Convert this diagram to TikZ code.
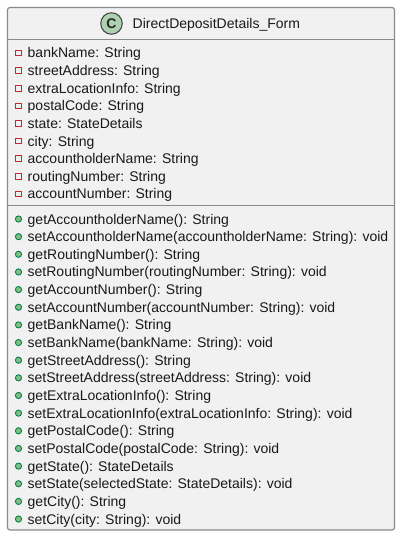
\documentclass[tikz,border=0pt]{standalone}
\usepackage{fontspec}
\setmainfont{Liberation Sans}
\tikzset{
  classbox/.style={draw=boxgray,fill=boxfill,line width=1.2pt,rounded corners=2.5pt},
  sepline/.style={draw=boxgray,line width=1.1pt},
  member/.style={anchor=base west,inner sep=0pt,font=\fontsize{14}{16}\selectfont,text=black!90},
  privmark/.style={draw=privred,line width=0.9pt,fill=none,minimum size=5.6pt,inner sep=0pt},
  pubmark/.style={circle,draw=pubdark,fill=pubgreen,line width=0.9pt,minimum size=6.2pt,inner sep=0pt},
}
\definecolor{boxgray}{HTML}{8A8A8A}
\definecolor{boxfill}{HTML}{F1F1F1}
\definecolor{privred}{HTML}{C82930}
\definecolor{pubdark}{HTML}{038048}
\definecolor{pubgreen}{HTML}{84BE84}
\definecolor{iconfill}{HTML}{ADD1B2}
\begin{document}
\begin{tikzpicture}[x=1pt,y=-1pt]
\useasboundingbox (0,0) rectangle (407,543);
\draw[classbox] (7.5,7.5) rectangle (394.5,530);
\draw[sepline] (7.5,39.5) -- (394.5,39.5);
\draw[sepline] (7.5,205.5) -- (394.5,205.5);
% header
\node[circle,draw=black!75,fill=iconfill,line width=1pt,minimum size=21.5pt,inner sep=0pt] (icon) at (111.5,23.5) {};
\node[font=\bfseries\fontsize{14}{16}\selectfont,text=black!85] (iconC) at (icon) {C};
\node[member] (title) at (132.5,29) {DirectDepositDetails\_Form};
% fields
\foreach \i/\txt in {0/bankName: String,1/streetAddress: String,2/extraLocationInfo: String,3/postalCode: String,4/state: StateDetails,5/city: String,6/accountholderName: String,7/routingNumber: String,8/accountNumber: String}{
  \node[privmark] (fm\i) at (18.5,53+17.6*\i) {};
  \node[member] (f\i) at (27.5,58+17.6*\i) {\txt};
}
% methods
\foreach \i/\txt in {0/getAccountholderName(): String,1/setAccountholderName(accountholderName: String): void,2/getRoutingNumber(): String,3/setRoutingNumber(routingNumber: String): void,4/getAccountNumber(): String,5/setAccountNumber(accountNumber: String): void,6/getBankName(): String,7/setBankName(bankName: String): void,8/getStreetAddress(): String,9/setStreetAddress(streetAddress: String): void,10/getExtraLocationInfo(): String,11/setExtraLocationInfo(extraLocationInfo: String): void,12/getPostalCode(): String,13/setPostalCode(postalCode: String): void,14/getState(): StateDetails,15/setState(selectedState: StateDetails): void,16/getCity(): String,17/setCity(city: String): void}{
  \node[pubmark] (mm\i) at (18.5,219+17.65*\i) {};
  \node[member] (m\i) at (27.5,224+17.65*\i) {\txt};
}
\end{tikzpicture}
\end{document}
